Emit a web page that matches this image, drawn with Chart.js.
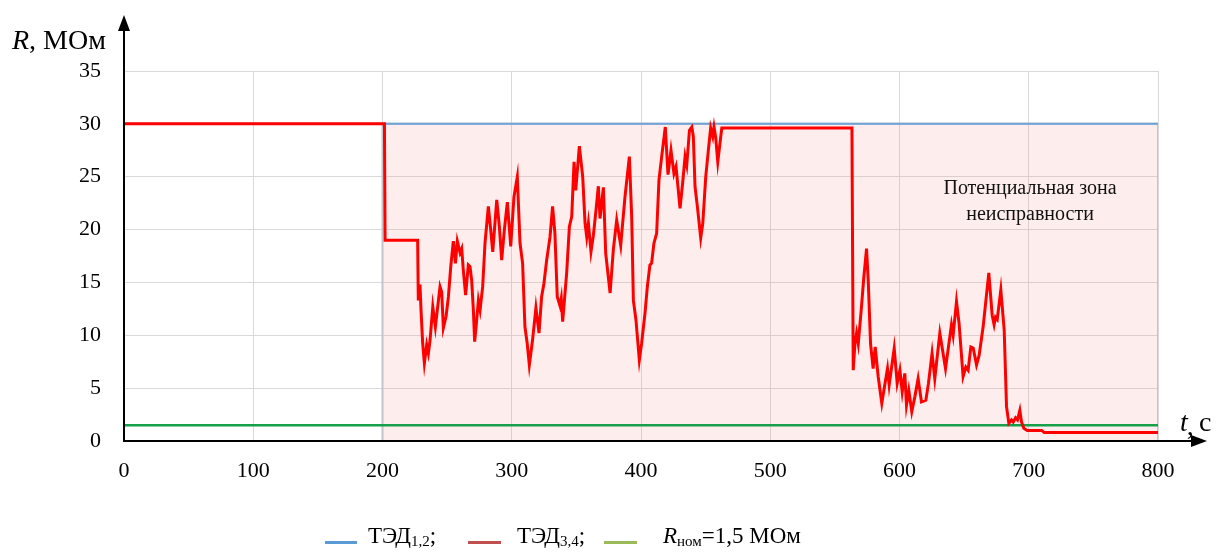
<title>R(t) ТЭД</title>
<meta charset="UTF-8">
<style>
body { margin:0; background:#fff; }
#wrap { position:relative; width:1219px; height:552px; }
#legend { position:absolute; left:0; top:523px; font-family:"Liberation Serif","Times New Roman",serif; font-size:23px; color:#000; }
#legend span.ln { position:absolute; top:18px; height:3px; }
#legend span.tx { position:absolute; top:0; white-space:nowrap; }
#legend sub { font-size:15px; vertical-align:baseline; position:relative; top:3px; }
</style>
<body>
<script src="https://cdn.jsdelivr.net/npm/chart.js@4/dist/chart.umd.min.js"></script>
<div id="wrap">
<canvas id="chart1" width="1219" height="552"></canvas>
<div id="legend">
	<span class="ln" style="left:325px; width:32px; background:#5b9bd5"></span>
	<span class="tx" style="left:368px">ТЭД<sub>1,2</sub>;</span>
	<span class="ln" style="left:468px; width:33px; background:#c0504d"></span>
	<span class="tx" style="left:517px">ТЭД<sub>3,4</sub>;</span>
	<span class="ln" style="left:604px; width:33px; background:#9bbb59"></span>
	<span class="tx" style="left:663px"><i>R</i><sub>ном</sub>=1,5 МОм</span>
</div>
</div>

<script>
var t34 = [0,201.5,202,227.2,227.7,229.0,229.8,231.1,232.4,234.2,235.5,236.8,238.9,240.9,244.5,245.8,247.1,249.2,251.0,252.8,
	254.8,256.4,257.9,260.0,261.3,262.5,264.3,266.4,267.7,269.0,270.3,271.3,272.4,274.2,275.5,277.5,279.3,281.9,283.7,285.3,
	288.4,290.4,292.2,294.3,296.6,299.2,301.7,304.3,306.4,308.4,310.2,312.0,313.6,316.1,318.7,321.1,323.1,324.9,327.0,329.6,
	331.6,333.4,335.2,337.3,338.3,339.4,342.5,344.6,346.4,348.2,349.5,352.3,354.9,356.7,358.0,359.3,361.3,363.1,365.2,367.0,
	368.3,370.9,372.7,376.1,378.6,381.2,384.3,387.6,391.0,392.8,394.1,396.1,398.7,400.5,403.1,404.9,406.9,408.2,410.0,412.1,
	413.9,416.0,418.8,420.9,423.2,425.5,427.1,430.2,432.3,434.1,435.4,437.5,439.3,440.5,441.8,443.6,446.2,447.8,450.1,452.1,
	453.9,455.5,456.5,457.8,459.4,462.5,563.2,564.2,565.5,566.8,568.1,570.6,572.4,574.5,575.8,577.6,579.6,581.2,583.5,586.3,
	588.6,590.7,592.0,595.9,598.2,600.3,602.1,604.1,605.4,607.2,609.5,611.9,614.4,617.0,620.4,622.4,625.2,627.3,631.2,635.6,
	640.2,641.5,644.1,646.1,649.2,651.3,653.1,655.2,657.0,659.6,661.6,664.7,669.1,671.7,673.2,674.3,675.6,678.4,681.0,682.8,
	684.6,686.7,688.0,689.8,691.3,693.1,694.4,696.2,698.8,710,712,800];
var r34 = [30,30,19,19,13.3,14.8,12.4,9.2,7.35,9.1,8.3,9.55,12.7,10.8,14.6,14.1,10.7,11.8,13.65,16.5,
	18.9,16.8,18.9,17.8,18.2,16.2,13.8,16.65,16.5,15.2,12.4,9.4,10.8,13.3,12.4,14.6,18.7,22.2,20.0,17.9,
	22.8,20.3,17.1,20.0,22.6,18.4,23.1,25.0,18.7,16.8,10.8,9.2,7.2,9.55,12.6,10.2,13.65,14.9,17.1,19.3,
	22.2,19.65,13.65,12.8,13.5,11.3,15.9,20.3,21.2,26.4,23.7,27.9,25.0,20.6,19.3,20.6,17.9,19.4,21.85,24.1,
	21.05,24.0,17.75,14.0,18.1,20.9,18.5,23.1,26.9,21.2,13.3,11.45,7.66,9.25,12.1,14.6,16.65,16.8,18.7,19.65,
	24.7,26.9,29.7,25.2,27.5,25.3,25.95,22.0,24.5,26.9,26.1,29.4,29.7,28.8,24.05,22.2,19.2,20.6,25.0,27.5,
	29.6,28.8,29.7,28.7,26.4,29.6,29.6,6.7,9.2,10.2,9.2,12.7,15.5,18.2,15.2,9.2,6.85,8.9,6.1,3.57,
	5.3,6.85,5.3,8.77,5.45,6.7,4.66,6.4,3.4,4.8,2.77,4.2,5.9,3.7,3.86,5.45,8.3,5.9,10.2,6.85,
	11.0,10.0,13.2,11.1,6.1,7.0,6.7,8.9,8.8,7.2,8.1,10.8,15.9,11.9,11.0,11.7,11.5,14.3,10.5,3.25,
	1.67,2.0,1.8,2.2,2.0,2.9,1.8,1.2,1.0,1.0,0.8,0.8];

// ТЭД 1,2 и номинал
var t12 = [0, 800];
var r12 = [30, 30];
var tNom = [0, 800];
var rNom = [1.5, 1.5];

// потенциальная зона неисправности
var zoneT = [200, 200, 800, 800];
var zoneR = [0, 30, 30, 0];

var xTicks = [0,100,200,300,400,500,600,700,800];
var yTicks = [0,5,10,15,20,25,30,35];

function pts(a, b) {
	var r = [];
	for (var i = 0; i < a.length; i++) r.push({x: a[i], y: b[i]});
	return r;
}

var serif = '"Liberation Serif","Times New Roman",serif';

var decor = {
	id: "decor",
	afterDraw: function(chart) {
		var ctx = chart.ctx;
		var xs = chart.scales.x, ys = chart.scales.y;
		var x0 = xs.getPixelForValue(0), y0 = ys.getPixelForValue(0);
		ctx.save();
		ctx.strokeStyle = "#000";
		ctx.fillStyle = "#000";
		ctx.lineWidth = 2;
		// оси со стрелками
		ctx.beginPath();
		ctx.moveTo(x0, y0 + 1);
		ctx.lineTo(x0, 28);
		ctx.moveTo(x0 - 1, y0);
		ctx.lineTo(1194, y0);
		ctx.stroke();
		ctx.beginPath();
		ctx.moveTo(x0, 15); ctx.lineTo(x0 - 6, 31); ctx.lineTo(x0 + 6, 31); ctx.closePath();
		ctx.fill();
		ctx.beginPath();
		ctx.moveTo(1207, y0); ctx.lineTo(1191, y0 - 6); ctx.lineTo(1191, y0 + 6); ctx.closePath();
		ctx.fill();

		// подписи осей
		ctx.textBaseline = "alphabetic";
		ctx.textAlign = "left";
		ctx.font = "italic 28px " + serif;
		ctx.fillText("R", 12, 49);
		var w = ctx.measureText("R").width;
		ctx.font = "28px " + serif;
		ctx.fillText(", МОм", 12 + w, 49);

		ctx.font = "italic 28px " + serif;
		ctx.fillText("t", 1180, 431);
		w = ctx.measureText("t").width;
		ctx.font = "28px " + serif;
		ctx.fillText(",", 1180 + w - 1, 435);
		ctx.fillText("с", 1199, 431);

		// надпись зоны
		ctx.font = "20px " + serif;
		ctx.textAlign = "center";
		ctx.fillStyle = "#111";
		var cx = xs.getPixelForValue(701);
		ctx.fillText("Потенциальная зона", cx, ys.getPixelForValue(23.4));
		ctx.fillText("неисправности", cx, ys.getPixelForValue(20.95));
		ctx.restore();
	}
};

new Chart("chart1", {
	type: "line",
	data: {
		datasets: [{
			label: "ТЭД3,4",
			data: pts(t34, r34),
			borderColor: "#ff0000",
			borderWidth: 3,
			pointRadius: 0,
			fill: false,
			tension: 0
		}, {
			label: "Rном=1,5 МОм",
			data: pts(tNom, rNom),
			borderColor: "#16a04a",
			borderWidth: 2.5,
			pointRadius: 0,
			fill: false
		}, {
			label: "ТЭД1,2",
			data: pts(t12, r12),
			borderColor: "#6fa3d8",
			borderWidth: 2,
			pointRadius: 0,
			fill: false
		}, {
			label: "zone",
			data: pts(zoneT, zoneR),
			borderColor: "#c3c3cb",
			borderWidth: 2,
			pointRadius: 0,
			fill: "origin",
			backgroundColor: "rgba(240,140,140,0.16)"
		}]
	},
	options: {
		responsive: false,
		animation: false,
		layout: { padding: { top: 71, right: 61, left: 0, bottom: 0 } },
		plugins: { legend: { display: false }, tooltip: { enabled: false } },
		scales: {
			x: {
				type: "linear",
				min: 0, max: 800,
				afterFit: function(s) { s.height = 111; },
				afterBuildTicks: function(s) { s.ticks = xTicks.map(function(v) { return {value: v}; }); },
				ticks: { padding: 17, color: "#000", font: { family: serif, size: 22 } },
				grid: { color: "#d9d9d9", lineWidth: 1, drawTicks: false },
				border: { display: false }
			},
			y: {
				min: 0, max: 35,
				afterFit: function(s) { s.width = 124; },
				afterBuildTicks: function(s) { s.ticks = yTicks.map(function(v) { return {value: v}; }); },
				ticks: { padding: 23, color: "#000", font: { family: serif, size: 22 } },
				grid: { color: "#d9d9d9", lineWidth: 1, drawTicks: false },
				border: { display: false }
			}
		}
	},
	plugins: [decor]
});
</script>
</body>
